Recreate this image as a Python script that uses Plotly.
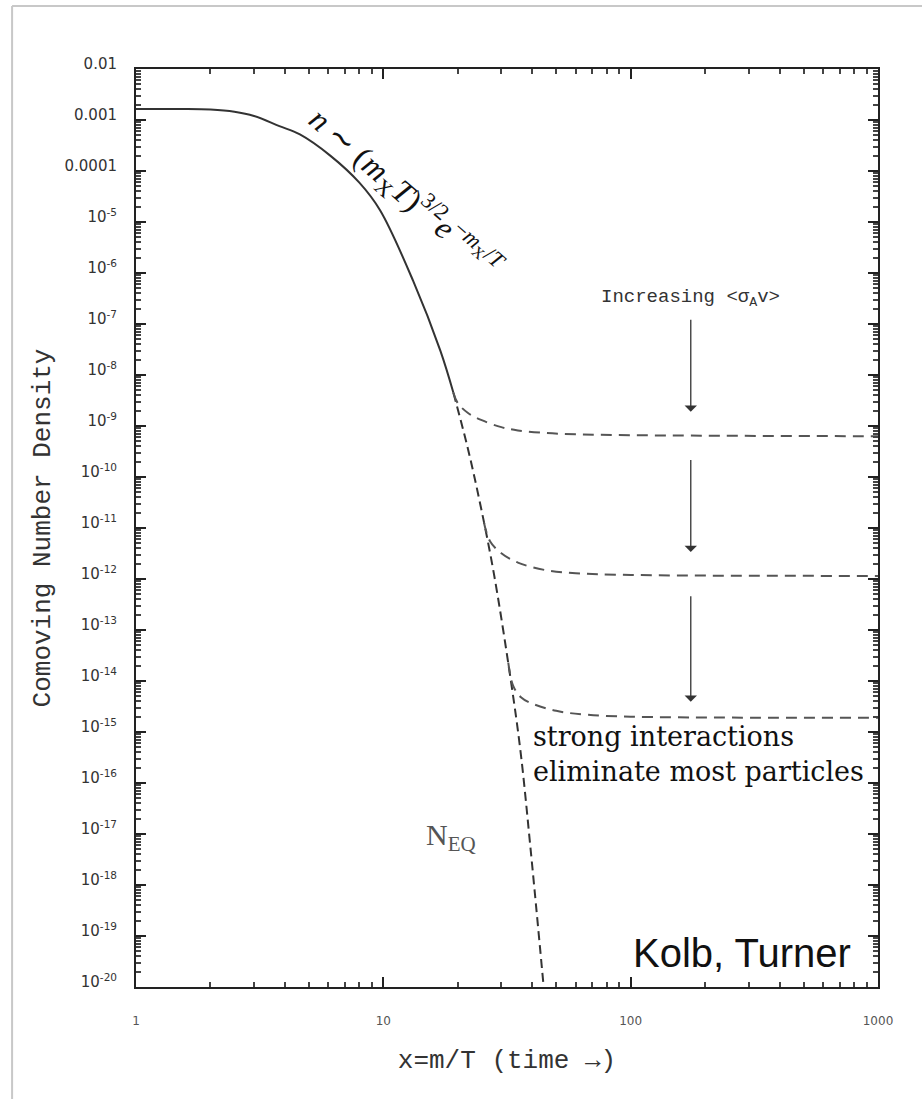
import numpy as np
import plotly.graph_objects as go

# ---------------- data ----------------
eq_solid_x = [1, 1.5, 2, 2.5, 3, 3.8, 4.6, 6.1, 8, 9.7, 13.2, 17.0, 19.2]
eq_solid_y = [1.65e-3, 1.64e-3, 1.6e-3, 1.45e-3, 1.2e-3, 7.6e-4, 5.2e-4, 2.0e-4,
              5.9e-5, 1.7e-5, 7e-7, 3e-8, 4.5e-9]
eq_dash_x = [19.2, 22, 24.7, 28, 32.7, 35.9, 39.4, 44.5]
eq_dash_y = [4.5e-9, 3.5e-10, 2.8e-11, 1.26e-12, 1.1e-14, 4e-16, 5e-18, 1e-20]

fo1_x = [19.2, 20, 22, 25, 30, 35, 45, 60, 100, 1000]
fo1_y = [4.5e-9, 2.8e-9, 1.8e-9, 1.3e-9, 9.5e-10, 8.2e-10, 7.3e-10, 6.9e-10, 6.6e-10, 6.3e-10]
fo2_x = [25.5, 27, 30, 35, 45, 60, 100, 1000]
fo2_y = [1.3e-11, 5.5e-12, 3.2e-12, 2.1e-12, 1.5e-12, 1.3e-12, 1.2e-12, 1.15e-12]
fo3_x = [32, 33.5, 36, 40, 50, 65, 100, 1000]
fo3_y = [2.3e-14, 8e-15, 4.8e-15, 3.6e-15, 2.6e-15, 2.2e-15, 2e-15, 1.9e-15]

x_ticks = [1, 10, 100, 1000]
x_tick_labels = ["1", "10", "100", "1000"]
y_ticks = [10.0 ** e for e in range(-20, -1)]
y_tick_labels = ["10<sup>%d</sup>" % e for e in range(-20, -4)] + ["0.0001", "0.001", "0.01"]

arrow_x = 175
arrows = [(1.3e-7, 1.9e-9), (2.3e-10, 3.4e-12), (4.9e-13, 3.9e-15)]

# ---------------- figure ----------------
fig = go.Figure()
line_col = "#333333"
fig.add_trace(go.Scatter(x=eq_solid_x, y=eq_solid_y, mode="lines",
                         line=dict(color=line_col, width=2), showlegend=False,
                         line_shape="spline"))
fig.add_trace(go.Scatter(x=eq_dash_x, y=eq_dash_y, mode="lines",
                         line=dict(color=line_col, width=2, dash="9px,5px"),
                         showlegend=False, line_shape="spline"))
for fx, fy in [(fo1_x, fo1_y), (fo2_x, fo2_y), (fo3_x, fo3_y)]:
    fig.add_trace(go.Scatter(x=fx, y=fy, mode="lines",
                             line=dict(color="#555555", width=2, dash="11px,7px"),
                             showlegend=False, line_shape="spline"))

minor_x = [m * 10 ** d for d in range(0, 3) for m in range(2, 10)]
minor_y = [m * 10.0 ** d for d in range(-20, -2) for m in range(2, 10)]

axis_common = dict(showgrid=False, zeroline=False, showline=True, linecolor="#222222",
                   linewidth=2, mirror="allticks", ticks="inside", ticklen=10,
                   tickwidth=2, tickcolor="#222222")

fig.update_xaxes(type="log", range=[0, 3], tickmode="array", tickvals=x_ticks,
                 ticktext=x_tick_labels, ticklabelstandoff=22,
                 tickfont=dict(family="DejaVu Sans", size=12, color="#555555"),
                 minor=dict(tickmode="array", tickvals=minor_x, ticks="inside",
                            ticklen=5, tickwidth=1.5, tickcolor="#444444"),
                 title=dict(text="x=m/T (time \u2192)",
                            font=dict(family="Liberation Mono, DejaVu Sans Mono", size=26,
                                      color="#333333"), standoff=22),
                 **axis_common)
fig.update_yaxes(type="log", range=[-20, -2], tickmode="array", tickvals=y_ticks,
                 ticktext=y_tick_labels, ticklabelstandoff=14, ticklabelshift=-5,
                 tickfont=dict(family="DejaVu Sans", size=15, color="#333333"),
                 minor=dict(tickmode="array", tickvals=minor_y, ticks="inside",
                            ticklen=5, tickwidth=1.5, tickcolor="#444444"),
                 title=dict(text="Comoving Number Density",
                            font=dict(family="Liberation Mono, DejaVu Sans Mono", size=26,
                                      color="#333333"), standoff=6),
                 **axis_common)

ann = []
ann.append(dict(x=np.log10(12.3), y=np.log10(3.7e-5), xref="x", yref="y", showarrow=False,
                text="<i>n</i> \u223c (<i>m</i><sub>X</sub><i>T</i>)<sup>3/2</sup><i>e</i><sup>\u2212<i>m</i><sub>X</sub>/<i>T</i></sup>",
                textangle=41, font=dict(family="Liberation Serif, Times New Roman", size=32, color="#111111")))
ann.append(dict(x=np.log10(arrow_x), y=np.log10(3.2e-7), xref="x", yref="y", showarrow=False,
                text="Increasing &lt;\u03c3<sub>A</sub>v&gt;",
                font=dict(family="Liberation Mono, DejaVu Sans Mono", size=19, color="#333333")))
for y0, y1 in arrows:
    ann.append(dict(x=np.log10(arrow_x), y=np.log10(y1), ax=np.log10(arrow_x), ay=np.log10(y0),
                    xref="x", yref="y", axref="x", ayref="y", showarrow=True, text="",
                    arrowhead=1, arrowsize=1.6, arrowwidth=1.3, arrowcolor="#333333"))
ann.append(dict(x=np.log10(18.7), y=np.log10(8.7e-18), xref="x", yref="y", showarrow=False,
                text="N<sub>EQ</sub>",
                font=dict(family="Liberation Serif, Times New Roman", size=30, color="#555555")))
ann.append(dict(x=np.log10(39.4), y=np.log10(3.7e-16), xref="x", yref="y", showarrow=False,
                xanchor="left", yanchor="middle", align="left",
                text="strong interactions<br>eliminate most particles",
                font=dict(family="DejaVu Serif, Georgia, serif", size=27, color="#111111")))
ann.append(dict(x=np.log10(790), y=np.log10(4.7e-20), xref="x", yref="y", showarrow=False,
                xanchor="right", yanchor="middle",
                text="Kolb, Turner",
                font=dict(family="Liberation Sans, Arial", size=40, color="#111111")))

shapes = [
    dict(type="line", xref="paper", yref="paper", x0=-0.167, x1=-0.167, y0=1.0686, y1=-0.2,
         line=dict(color="#c8c8c8", width=2)),
    dict(type="line", xref="paper", yref="paper", x0=-0.167, x1=1.1, y0=1.0686, y1=1.0686,
         line=dict(color="#c8c8c8", width=2)),
]

fig.update_layout(width=922, height=1099, margin=dict(l=136, r=44, t=69, b=112),
                  paper_bgcolor="white", plot_bgcolor="white",
                  annotations=ann, shapes=shapes, showlegend=False)

fig.write_html("out.html")
